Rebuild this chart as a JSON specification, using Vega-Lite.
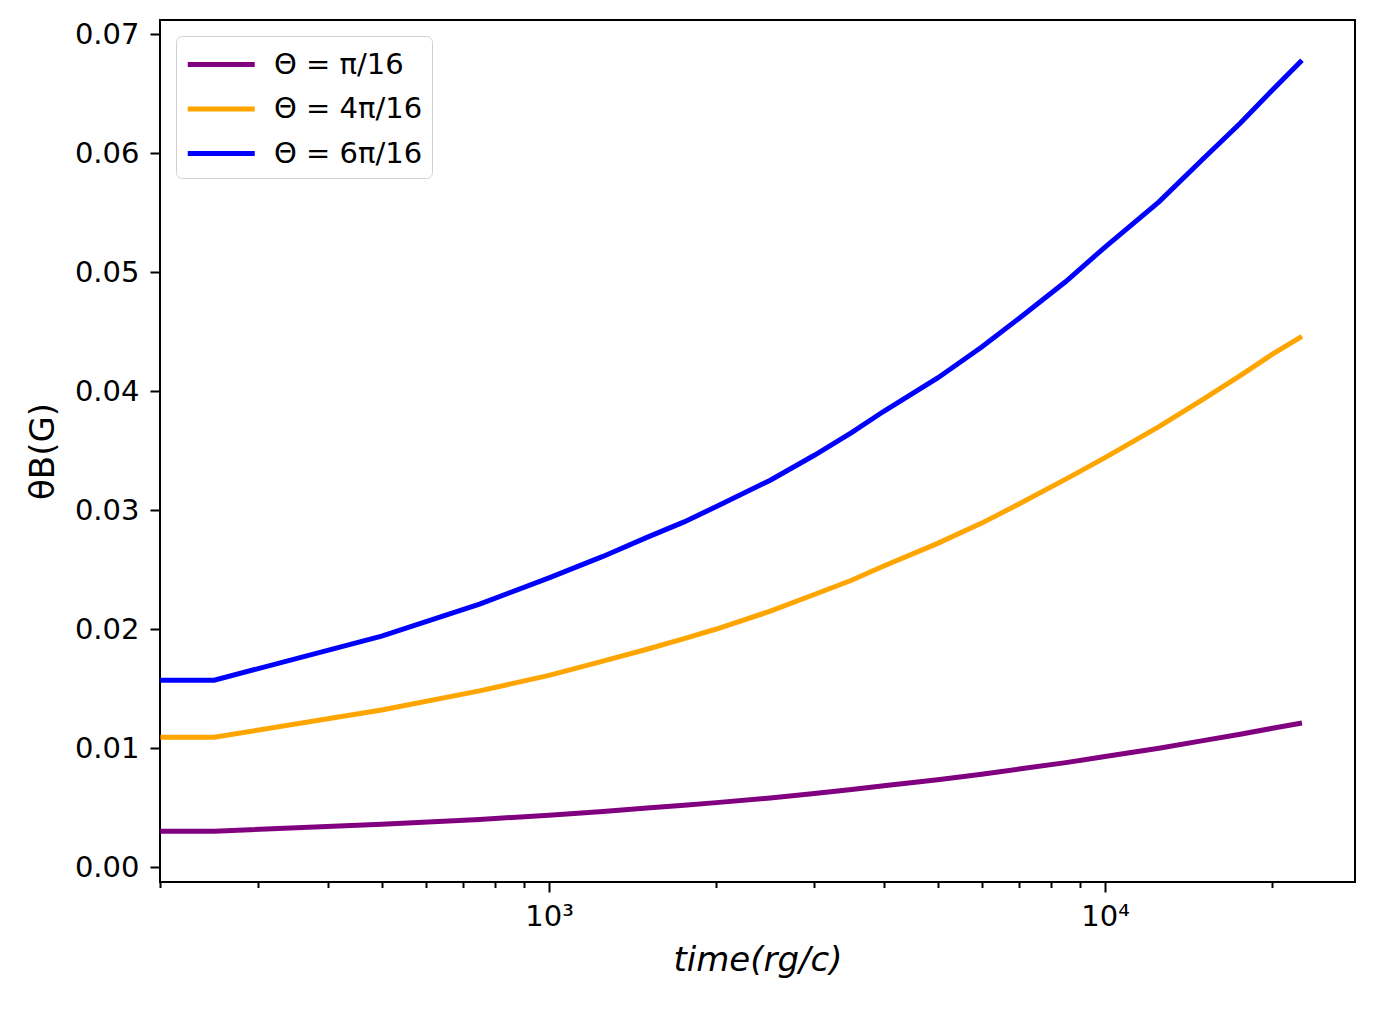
{
  "$schema": "https://vega.github.io/schema/vega-lite/v6.json",
  "autosize": {"type": "none"},
  "width": 1195,
  "height": 862,
  "padding": {"left": 160, "top": 20, "right": 22, "bottom": 128},
  "background": "white",
  "data": {
    "values": [
      {"series": "Θ = π/16", "t": 200, "B": 0.0030},
      {"series": "Θ = π/16", "t": 250, "B": 0.0030},
      {"series": "Θ = π/16", "t": 500, "B": 0.0036},
      {"series": "Θ = π/16", "t": 750, "B": 0.0040},
      {"series": "Θ = π/16", "t": 1000, "B": 0.00435},
      {"series": "Θ = π/16", "t": 1250, "B": 0.00466},
      {"series": "Θ = π/16", "t": 1500, "B": 0.00495},
      {"series": "Θ = π/16", "t": 1750, "B": 0.00518},
      {"series": "Θ = π/16", "t": 2000, "B": 0.00541},
      {"series": "Θ = π/16", "t": 2500, "B": 0.0058},
      {"series": "Θ = π/16", "t": 3000, "B": 0.00618},
      {"series": "Θ = π/16", "t": 3500, "B": 0.00652},
      {"series": "Θ = π/16", "t": 4000, "B": 0.00683},
      {"series": "Θ = π/16", "t": 5000, "B": 0.00734},
      {"series": "Θ = π/16", "t": 6000, "B": 0.0078},
      {"series": "Θ = π/16", "t": 7000, "B": 0.00823},
      {"series": "Θ = π/16", "t": 8500, "B": 0.00877},
      {"series": "Θ = π/16", "t": 10000, "B": 0.00929},
      {"series": "Θ = π/16", "t": 12500, "B": 0.00998},
      {"series": "Θ = π/16", "t": 15000, "B": 0.01062},
      {"series": "Θ = π/16", "t": 17500, "B": 0.01116},
      {"series": "Θ = π/16", "t": 20000, "B": 0.01166},
      {"series": "Θ = π/16", "t": 22600, "B": 0.0121},
      {"series": "Θ = 4π/16", "t": 200, "B": 0.0109},
      {"series": "Θ = 4π/16", "t": 250, "B": 0.0109},
      {"series": "Θ = 4π/16", "t": 500, "B": 0.0132},
      {"series": "Θ = 4π/16", "t": 750, "B": 0.0148},
      {"series": "Θ = 4π/16", "t": 1000, "B": 0.0161},
      {"series": "Θ = 4π/16", "t": 1250, "B": 0.0173},
      {"series": "Θ = 4π/16", "t": 1500, "B": 0.0183},
      {"series": "Θ = 4π/16", "t": 1750, "B": 0.0192},
      {"series": "Θ = 4π/16", "t": 2000, "B": 0.0200},
      {"series": "Θ = 4π/16", "t": 2500, "B": 0.0215},
      {"series": "Θ = 4π/16", "t": 3000, "B": 0.0229},
      {"series": "Θ = 4π/16", "t": 3500, "B": 0.0241},
      {"series": "Θ = 4π/16", "t": 4000, "B": 0.0253},
      {"series": "Θ = 4π/16", "t": 5000, "B": 0.0272},
      {"series": "Θ = 4π/16", "t": 6000, "B": 0.0289},
      {"series": "Θ = 4π/16", "t": 7000, "B": 0.0305},
      {"series": "Θ = 4π/16", "t": 8500, "B": 0.0326},
      {"series": "Θ = 4π/16", "t": 10000, "B": 0.0344},
      {"series": "Θ = 4π/16", "t": 12500, "B": 0.0370},
      {"series": "Θ = 4π/16", "t": 15000, "B": 0.0393},
      {"series": "Θ = 4π/16", "t": 17500, "B": 0.0413},
      {"series": "Θ = 4π/16", "t": 20000, "B": 0.0431},
      {"series": "Θ = 4π/16", "t": 22600, "B": 0.0446},
      {"series": "Θ = 6π/16", "t": 200, "B": 0.0157},
      {"series": "Θ = 6π/16", "t": 250, "B": 0.0157},
      {"series": "Θ = 6π/16", "t": 500, "B": 0.0194},
      {"series": "Θ = 6π/16", "t": 750, "B": 0.0221},
      {"series": "Θ = 6π/16", "t": 1000, "B": 0.0243},
      {"series": "Θ = 6π/16", "t": 1250, "B": 0.0261},
      {"series": "Θ = 6π/16", "t": 1500, "B": 0.0277},
      {"series": "Θ = 6π/16", "t": 1750, "B": 0.0290},
      {"series": "Θ = 6π/16", "t": 2000, "B": 0.0303},
      {"series": "Θ = 6π/16", "t": 2500, "B": 0.0325},
      {"series": "Θ = 6π/16", "t": 3000, "B": 0.0346},
      {"series": "Θ = 6π/16", "t": 3500, "B": 0.0365},
      {"series": "Θ = 6π/16", "t": 4000, "B": 0.0383},
      {"series": "Θ = 6π/16", "t": 5000, "B": 0.0411},
      {"series": "Θ = 6π/16", "t": 6000, "B": 0.0437},
      {"series": "Θ = 6π/16", "t": 7000, "B": 0.0461},
      {"series": "Θ = 6π/16", "t": 8500, "B": 0.0492},
      {"series": "Θ = 6π/16", "t": 10000, "B": 0.0521},
      {"series": "Θ = 6π/16", "t": 12500, "B": 0.0559},
      {"series": "Θ = 6π/16", "t": 15000, "B": 0.0595},
      {"series": "Θ = 6π/16", "t": 17500, "B": 0.0625},
      {"series": "Θ = 6π/16", "t": 20000, "B": 0.0653},
      {"series": "Θ = 6π/16", "t": 22600, "B": 0.0678}
    ]
  },
  "mark": {"type": "line", "strokeWidth": 5, "clip": true},
  "encoding": {
    "x": {
      "field": "t",
      "type": "quantitative",
      "scale": {"type": "log", "domain": [199.7, 28150], "nice": false},
      "axis": {
        "title": "time(rg/c)",
        "titleFontStyle": "italic",
        "titleFontWeight": "normal",
        "titleFontSize": 34,
        "titlePadding": 12,
        "values": [200, 300, 400, 500, 600, 700, 800, 900, 1000, 2000, 3000, 4000, 5000, 6000, 7000, 8000, 9000, 10000, 20000],
        "labelExpr": "datum.value == 1000 ? '10³' : datum.value == 10000 ? '10⁴' : ''",
        "labelFontSize": 29,
        "labelPadding": 10,
        "labelOverlap": false,
        "tickSize": {"condition": {"test": "datum.value == 1000 || datum.value == 10000", "value": 10}, "value": 5.5},
        "tickWidth": 2,
        "grid": false
      }
    },
    "y": {
      "field": "B",
      "type": "quantitative",
      "scale": {"domain": [-0.00126, 0.07118], "nice": false, "zero": false},
      "axis": {
        "title": "θB(G)",
        "titleFontWeight": "normal",
        "titleFontSize": 34,
        "titlePadding": 14,
        "values": [0, 0.01, 0.02, 0.03, 0.04, 0.05, 0.06, 0.07],
        "format": ".2f",
        "labelFontSize": 29,
        "labelPadding": 11,
        "tickSize": 10,
        "tickWidth": 2,
        "grid": false
      }
    },
    "color": {
      "field": "series",
      "type": "nominal",
      "scale": {"domain": ["Θ = π/16", "Θ = 4π/16", "Θ = 6π/16"], "range": ["#800080", "#FFA500", "#0000FF"]},
      "legend": {
        "title": null,
        "orient": "top-left",
        "offset": 16,
        "padding": 9,
        "fillColor": "white",
        "strokeColor": "#d0d0d0",
        "cornerRadius": 6,
        "symbolType": "M-1,0H3",
        "symbolSize": 1122,
        "symbolStrokeWidth": 5,
        "labelFontSize": 29,
        "labelOffset": 50,
        "rowPadding": 9.5
      }
    }
  },
  "config": {
    "font": "DejaVu Sans",
    "view": {"stroke": "black", "strokeWidth": 2},
    "axis": {
      "domain": false,
      "labelColor": "black",
      "tickColor": "black",
      "titleColor": "black",
      "labelFont": "DejaVu Sans",
      "titleFont": "DejaVu Sans"
    },
    "legend": {"labelColor": "black", "labelFont": "DejaVu Sans"}
  }
}
